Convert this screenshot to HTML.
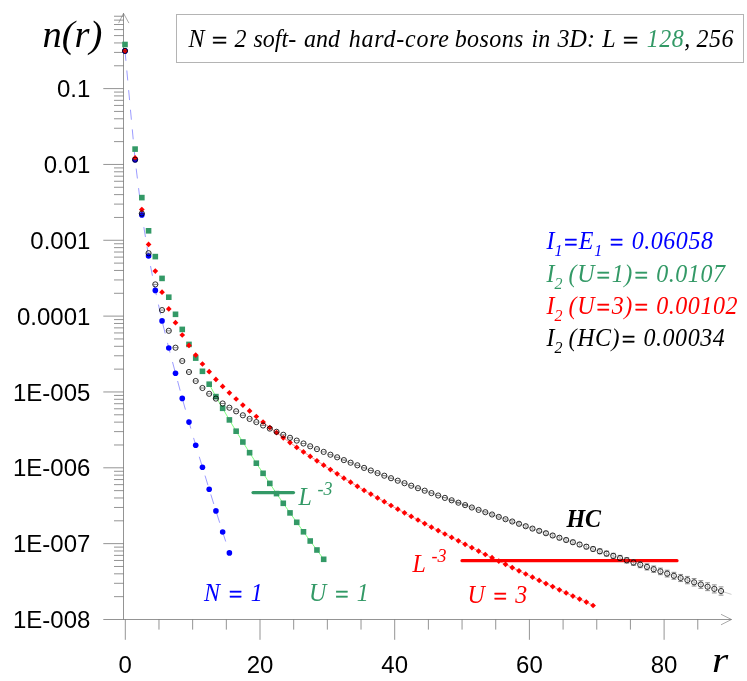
<!DOCTYPE html>
<html><head><meta charset="utf-8"><title>n(r)</title>
<style>
html,body{margin:0;padding:0;background:#fff;}
#c{position:relative;width:747px;height:681px;overflow:hidden;background:#fff;font-family:"Liberation Serif",serif;}
.t{position:absolute;white-space:nowrap;font-style:italic;font-family:"Liberation Serif",serif;}
.t .b{display:inline-block;}
.s{font-family:"Liberation Sans",sans-serif;font-style:normal;}
.yl{transform:scaleY(1.03);transform-origin:0 20.6px;position:absolute;left:0;width:90.4px;text-align:right;font:24px "Liberation Sans",sans-serif;height:24px;line-height:24px;color:#000;}
.xl{transform:scaleY(1.03);transform-origin:0 20.6px;position:absolute;width:60px;text-align:center;font:24px "Liberation Sans",sans-serif;height:24px;line-height:24px;color:#000;}
span.eq{display:inline-block;transform:scaleX(1.15);transform-origin:0 50%;position:relative;top:2.3px;-webkit-text-stroke:0.45px currentColor;}
span.e2{position:relative;top:2.3px;-webkit-text-stroke:0.45px currentColor;}
span.n{letter-spacing:0.55px;}
span.p{letter-spacing:0.55px;}
sub.k{font-size:16px;vertical-align:baseline;position:relative;top:6.8px;line-height:0;}
sup.k{font-size:18px;vertical-align:baseline;position:relative;top:-10.3px;left:0.3px;line-height:0;}
#tx{position:absolute;left:0;top:0;width:747px;height:681px;will-change:transform;}
#box{position:absolute;left:175.8px;top:13.8px;width:566.6px;height:47.3px;border:1px solid #b4b4b4;}
</style></head><body><div id="c">
<svg width="747" height="681" viewBox="0 0 747 681" style="position:absolute;left:0;top:0">
<g stroke="#707070" stroke-width="0.75" fill="none">
<line x1="123.5" y1="13.3" x2="123.5" y2="619.5"/>
<line x1="103.3" y1="619.5" x2="731.5" y2="619.5"/>
<polyline points="118.6,23.1 123.5,13.3 128.9,23.1" stroke-width="0.6"/>
<polyline points="721,614.3 731.5,619.5 721,624.8" stroke-width="0.6"/>
<line x1="103.3" y1="88.60" x2="123.5" y2="88.60"/>
<line x1="103.3" y1="164.44" x2="123.5" y2="164.44"/>
<line x1="103.3" y1="240.28" x2="123.5" y2="240.28"/>
<line x1="103.3" y1="316.12" x2="123.5" y2="316.12"/>
<line x1="103.3" y1="391.96" x2="123.5" y2="391.96"/>
<line x1="103.3" y1="467.80" x2="123.5" y2="467.80"/>
<line x1="103.3" y1="543.64" x2="123.5" y2="543.64"/>
<line x1="114" y1="65.77" x2="123.5" y2="65.77"/>
<line x1="114" y1="52.42" x2="123.5" y2="52.42"/>
<line x1="114" y1="42.94" x2="123.5" y2="42.94"/>
<line x1="114" y1="35.59" x2="123.5" y2="35.59"/>
<line x1="114" y1="29.59" x2="123.5" y2="29.59"/>
<line x1="114" y1="24.51" x2="123.5" y2="24.51"/>
<line x1="114" y1="20.11" x2="123.5" y2="20.11"/>
<line x1="114" y1="16.23" x2="123.5" y2="16.23"/>
<line x1="114" y1="141.61" x2="123.5" y2="141.61"/>
<line x1="114" y1="128.26" x2="123.5" y2="128.26"/>
<line x1="114" y1="118.78" x2="123.5" y2="118.78"/>
<line x1="114" y1="111.43" x2="123.5" y2="111.43"/>
<line x1="114" y1="105.43" x2="123.5" y2="105.43"/>
<line x1="114" y1="100.35" x2="123.5" y2="100.35"/>
<line x1="114" y1="95.95" x2="123.5" y2="95.95"/>
<line x1="114" y1="92.07" x2="123.5" y2="92.07"/>
<line x1="114" y1="217.45" x2="123.5" y2="217.45"/>
<line x1="114" y1="204.10" x2="123.5" y2="204.10"/>
<line x1="114" y1="194.62" x2="123.5" y2="194.62"/>
<line x1="114" y1="187.27" x2="123.5" y2="187.27"/>
<line x1="114" y1="181.27" x2="123.5" y2="181.27"/>
<line x1="114" y1="176.19" x2="123.5" y2="176.19"/>
<line x1="114" y1="171.79" x2="123.5" y2="171.79"/>
<line x1="114" y1="167.91" x2="123.5" y2="167.91"/>
<line x1="114" y1="293.29" x2="123.5" y2="293.29"/>
<line x1="114" y1="279.94" x2="123.5" y2="279.94"/>
<line x1="114" y1="270.46" x2="123.5" y2="270.46"/>
<line x1="114" y1="263.11" x2="123.5" y2="263.11"/>
<line x1="114" y1="257.11" x2="123.5" y2="257.11"/>
<line x1="114" y1="252.03" x2="123.5" y2="252.03"/>
<line x1="114" y1="247.63" x2="123.5" y2="247.63"/>
<line x1="114" y1="243.75" x2="123.5" y2="243.75"/>
<line x1="114" y1="369.13" x2="123.5" y2="369.13"/>
<line x1="114" y1="355.78" x2="123.5" y2="355.78"/>
<line x1="114" y1="346.30" x2="123.5" y2="346.30"/>
<line x1="114" y1="338.95" x2="123.5" y2="338.95"/>
<line x1="114" y1="332.95" x2="123.5" y2="332.95"/>
<line x1="114" y1="327.87" x2="123.5" y2="327.87"/>
<line x1="114" y1="323.47" x2="123.5" y2="323.47"/>
<line x1="114" y1="319.59" x2="123.5" y2="319.59"/>
<line x1="114" y1="444.97" x2="123.5" y2="444.97"/>
<line x1="114" y1="431.62" x2="123.5" y2="431.62"/>
<line x1="114" y1="422.14" x2="123.5" y2="422.14"/>
<line x1="114" y1="414.79" x2="123.5" y2="414.79"/>
<line x1="114" y1="408.79" x2="123.5" y2="408.79"/>
<line x1="114" y1="403.71" x2="123.5" y2="403.71"/>
<line x1="114" y1="399.31" x2="123.5" y2="399.31"/>
<line x1="114" y1="395.43" x2="123.5" y2="395.43"/>
<line x1="114" y1="520.81" x2="123.5" y2="520.81"/>
<line x1="114" y1="507.46" x2="123.5" y2="507.46"/>
<line x1="114" y1="497.98" x2="123.5" y2="497.98"/>
<line x1="114" y1="490.63" x2="123.5" y2="490.63"/>
<line x1="114" y1="484.63" x2="123.5" y2="484.63"/>
<line x1="114" y1="479.55" x2="123.5" y2="479.55"/>
<line x1="114" y1="475.15" x2="123.5" y2="475.15"/>
<line x1="114" y1="471.27" x2="123.5" y2="471.27"/>
<line x1="114" y1="596.65" x2="123.5" y2="596.65"/>
<line x1="114" y1="583.30" x2="123.5" y2="583.30"/>
<line x1="114" y1="573.82" x2="123.5" y2="573.82"/>
<line x1="114" y1="566.47" x2="123.5" y2="566.47"/>
<line x1="114" y1="560.47" x2="123.5" y2="560.47"/>
<line x1="114" y1="555.39" x2="123.5" y2="555.39"/>
<line x1="114" y1="550.99" x2="123.5" y2="550.99"/>
<line x1="114" y1="547.11" x2="123.5" y2="547.11"/>
<line x1="125.30" y1="619.5" x2="125.30" y2="639.8"/>
<line x1="158.98" y1="619.5" x2="158.98" y2="629.6"/>
<line x1="192.65" y1="619.5" x2="192.65" y2="629.6"/>
<line x1="226.33" y1="619.5" x2="226.33" y2="629.6"/>
<line x1="260.00" y1="619.5" x2="260.00" y2="639.8"/>
<line x1="293.68" y1="619.5" x2="293.68" y2="629.6"/>
<line x1="327.35" y1="619.5" x2="327.35" y2="629.6"/>
<line x1="361.03" y1="619.5" x2="361.03" y2="629.6"/>
<line x1="394.70" y1="619.5" x2="394.70" y2="639.8"/>
<line x1="428.38" y1="619.5" x2="428.38" y2="629.6"/>
<line x1="462.05" y1="619.5" x2="462.05" y2="629.6"/>
<line x1="495.73" y1="619.5" x2="495.73" y2="629.6"/>
<line x1="529.40" y1="619.5" x2="529.40" y2="639.8"/>
<line x1="563.08" y1="619.5" x2="563.08" y2="629.6"/>
<line x1="596.75" y1="619.5" x2="596.75" y2="629.6"/>
<line x1="630.42" y1="619.5" x2="630.42" y2="629.6"/>
<line x1="664.10" y1="619.5" x2="664.10" y2="639.8"/>
<line x1="697.77" y1="619.5" x2="697.77" y2="629.6"/>
</g>
<path d="M125.00,50.90 L135.10,159.70 L141.84,214.90 L148.57,256.00 L155.31,290.40 L162.04,320.90 L168.78,348.00 L175.51,373.20 L182.25,398.40 L188.98,422.10 L195.72,445.20 L202.45,467.20 L209.19,489.20 L215.92,510.90 L222.66,532.00 L229.39,552.90" stroke="#7070ff" stroke-width="0.7" fill="none" stroke-dasharray="10 9.7"/>
<path d="M209.19,384.20 L215.92,396.60 L222.66,408.30 L229.39,419.90 L236.13,431.20 L242.86,442.00 L249.60,452.70 L256.33,463.20 L263.07,473.30 L269.80,483.40 L276.54,493.60 L283.27,503.30 L290.01,512.90 L296.74,522.30 L303.48,531.80 L310.21,541.00 L316.95,550.00 L323.68,559.30" stroke="#80ff80" stroke-width="1" fill="none"/>
<path d="M263.07,422.10 L269.80,427.60 L276.54,432.60 L283.27,437.80 L290.01,442.60 L296.74,447.40 L303.48,451.90 L310.21,456.40 L316.95,460.80 L323.68,465.20 L330.42,469.60 L337.15,473.80 L343.89,478.20 L350.62,482.20 L357.36,486.30 L364.09,490.30 L370.83,494.10 L377.56,497.90 L384.30,501.70 L391.03,505.50 L397.77,509.20 L404.50,512.80 L411.24,516.40 L417.97,520.00 L424.71,523.60 L431.44,527.20 L438.18,530.60 L444.91,534.00 L451.65,537.40 L458.38,540.80 L465.12,544.30 L471.85,547.70 L478.59,551.10 L485.32,554.50 L492.06,557.70 L498.79,561.10 L505.53,564.30 L512.26,567.60 L519.00,570.80 L525.73,574.00 L532.47,577.20 L539.20,580.40 L545.94,583.60 L552.67,586.60 L559.41,589.80 L566.14,592.90 L572.88,596.10 L579.61,599.10 L586.35,602.10 L593.08,605.50" stroke="#ff9090" stroke-width="1" fill="none"/>
<path d="M330.42,454.70 L337.15,457.30 L343.89,460.10 L350.62,462.70 L357.36,465.30 L364.09,467.90 L370.83,470.50 L377.56,473.10 L384.30,475.70 L391.03,478.20 L397.77,480.70 L404.50,483.20 L411.24,485.70 L417.97,488.20 L424.71,490.70 L431.44,493.10 L438.18,495.50 L444.91,497.90 L451.65,500.30 L458.38,502.70 L465.12,505.10 L471.85,507.50 L478.59,509.90 L485.32,512.20 L492.06,514.50 L498.79,516.90 L505.53,519.20 L512.26,521.50 L519.00,523.80 L525.73,526.20 L532.47,528.60 L539.20,530.90 L545.94,533.20 L552.67,535.50 L559.41,537.80 L566.14,540.00 L572.88,542.20 L579.61,544.50 L586.35,546.70 L593.08,549.00 L599.82,551.30 L606.55,553.60 L613.29,555.90 L620.02,558.10 L626.76,560.30 L633.49,562.50 L640.23,564.70 L646.96,566.90 L653.70,569.20 L660.43,571.40 L667.17,573.60 L673.90,575.80 L680.64,578.00 L687.37,580.10 L694.11,582.30 L700.84,584.50 L707.58,586.70 L714.31,588.90 L721.05,591.00 L731.49,594.40" stroke="#999" stroke-width="0.5" fill="none"/>
<line x1="253" y1="492.6" x2="293.5" y2="492.6" stroke="#339966" stroke-width="3.2" stroke-linecap="round"/>
<line x1="462" y1="560.7" x2="677" y2="560.7" stroke="#ff0000" stroke-width="3.2" stroke-linecap="round"/>
<circle cx="125.00" cy="50.90" r="2.8" fill="#0000ff"/>
<circle cx="135.10" cy="159.70" r="2.8" fill="#0000ff"/>
<circle cx="141.84" cy="214.90" r="2.8" fill="#0000ff"/>
<circle cx="148.57" cy="256.00" r="2.8" fill="#0000ff"/>
<circle cx="155.31" cy="290.40" r="2.8" fill="#0000ff"/>
<circle cx="162.04" cy="320.90" r="2.8" fill="#0000ff"/>
<circle cx="168.78" cy="348.00" r="2.8" fill="#0000ff"/>
<circle cx="175.51" cy="373.20" r="2.8" fill="#0000ff"/>
<circle cx="182.25" cy="398.40" r="2.8" fill="#0000ff"/>
<circle cx="188.98" cy="422.10" r="2.8" fill="#0000ff"/>
<circle cx="195.72" cy="445.20" r="2.8" fill="#0000ff"/>
<circle cx="202.45" cy="467.20" r="2.8" fill="#0000ff"/>
<circle cx="209.19" cy="489.20" r="2.8" fill="#0000ff"/>
<circle cx="215.92" cy="510.90" r="2.8" fill="#0000ff"/>
<circle cx="222.66" cy="532.00" r="2.8" fill="#0000ff"/>
<circle cx="229.39" cy="552.90" r="2.8" fill="#0000ff"/>
<rect x="122.20" y="41.70" width="5.6" height="5.6" fill="#339966"/>
<rect x="132.30" y="146.30" width="5.6" height="5.6" fill="#339966"/>
<rect x="139.04" y="194.80" width="5.6" height="5.6" fill="#339966"/>
<rect x="145.77" y="228.00" width="5.6" height="5.6" fill="#339966"/>
<rect x="152.51" y="253.80" width="5.6" height="5.6" fill="#339966"/>
<rect x="159.24" y="275.60" width="5.6" height="5.6" fill="#339966"/>
<rect x="165.98" y="294.40" width="5.6" height="5.6" fill="#339966"/>
<rect x="172.71" y="311.50" width="5.6" height="5.6" fill="#339966"/>
<rect x="179.45" y="326.60" width="5.6" height="5.6" fill="#339966"/>
<rect x="186.18" y="341.60" width="5.6" height="5.6" fill="#339966"/>
<rect x="192.92" y="355.30" width="5.6" height="5.6" fill="#339966"/>
<rect x="199.65" y="368.50" width="5.6" height="5.6" fill="#339966"/>
<rect x="206.39" y="381.40" width="5.6" height="5.6" fill="#339966"/>
<rect x="213.12" y="393.80" width="5.6" height="5.6" fill="#339966"/>
<rect x="219.86" y="405.50" width="5.6" height="5.6" fill="#339966"/>
<rect x="226.59" y="417.10" width="5.6" height="5.6" fill="#339966"/>
<rect x="233.33" y="428.40" width="5.6" height="5.6" fill="#339966"/>
<rect x="240.06" y="439.20" width="5.6" height="5.6" fill="#339966"/>
<rect x="246.80" y="449.90" width="5.6" height="5.6" fill="#339966"/>
<rect x="253.53" y="460.40" width="5.6" height="5.6" fill="#339966"/>
<rect x="260.27" y="470.50" width="5.6" height="5.6" fill="#339966"/>
<rect x="267.00" y="480.60" width="5.6" height="5.6" fill="#339966"/>
<rect x="273.74" y="490.80" width="5.6" height="5.6" fill="#339966"/>
<rect x="280.47" y="500.50" width="5.6" height="5.6" fill="#339966"/>
<rect x="287.21" y="510.10" width="5.6" height="5.6" fill="#339966"/>
<rect x="293.94" y="519.50" width="5.6" height="5.6" fill="#339966"/>
<rect x="300.68" y="529.00" width="5.6" height="5.6" fill="#339966"/>
<rect x="307.41" y="538.20" width="5.6" height="5.6" fill="#339966"/>
<rect x="314.15" y="547.20" width="5.6" height="5.6" fill="#339966"/>
<rect x="320.88" y="556.50" width="5.6" height="5.6" fill="#339966"/>
<path d="M122.15,50.90 L125.00,48.05 L127.85,50.90 L125.00,53.75Z" fill="#ff0000"/>
<path d="M132.25,157.90 L135.10,155.05 L137.95,157.90 L135.10,160.75Z" fill="#ff0000"/>
<path d="M138.99,209.60 L141.84,206.75 L144.69,209.60 L141.84,212.45Z" fill="#ff0000"/>
<path d="M145.72,244.40 L148.57,241.55 L151.42,244.40 L148.57,247.25Z" fill="#ff0000"/>
<path d="M152.46,271.10 L155.31,268.25 L158.16,271.10 L155.31,273.95Z" fill="#ff0000"/>
<path d="M159.19,292.20 L162.04,289.35 L164.89,292.20 L162.04,295.05Z" fill="#ff0000"/>
<path d="M165.93,308.90 L168.78,306.05 L171.63,308.90 L168.78,311.75Z" fill="#ff0000"/>
<path d="M172.66,322.70 L175.51,319.85 L178.36,322.70 L175.51,325.55Z" fill="#ff0000"/>
<path d="M179.40,335.00 L182.25,332.15 L185.10,335.00 L182.25,337.85Z" fill="#ff0000"/>
<path d="M186.13,345.40 L188.98,342.55 L191.83,345.40 L188.98,348.25Z" fill="#ff0000"/>
<path d="M192.87,355.10 L195.72,352.25 L198.57,355.10 L195.72,357.95Z" fill="#ff0000"/>
<path d="M199.60,364.00 L202.45,361.15 L205.30,364.00 L202.45,366.85Z" fill="#ff0000"/>
<path d="M206.34,371.70 L209.19,368.85 L212.04,371.70 L209.19,374.55Z" fill="#ff0000"/>
<path d="M213.07,379.40 L215.92,376.55 L218.77,379.40 L215.92,382.25Z" fill="#ff0000"/>
<path d="M219.81,386.40 L222.66,383.55 L225.51,386.40 L222.66,389.25Z" fill="#ff0000"/>
<path d="M226.54,392.80 L229.39,389.95 L232.24,392.80 L229.39,395.65Z" fill="#ff0000"/>
<path d="M233.28,399.00 L236.13,396.15 L238.98,399.00 L236.13,401.85Z" fill="#ff0000"/>
<path d="M240.01,405.10 L242.86,402.25 L245.71,405.10 L242.86,407.95Z" fill="#ff0000"/>
<path d="M246.75,410.90 L249.60,408.05 L252.45,410.90 L249.60,413.75Z" fill="#ff0000"/>
<path d="M253.48,416.50 L256.33,413.65 L259.18,416.50 L256.33,419.35Z" fill="#ff0000"/>
<path d="M260.22,422.10 L263.07,419.25 L265.92,422.10 L263.07,424.95Z" fill="#ff0000"/>
<path d="M266.95,427.60 L269.80,424.75 L272.65,427.60 L269.80,430.45Z" fill="#ff0000"/>
<path d="M273.69,432.60 L276.54,429.75 L279.39,432.60 L276.54,435.45Z" fill="#ff0000"/>
<path d="M280.42,437.80 L283.27,434.95 L286.12,437.80 L283.27,440.65Z" fill="#ff0000"/>
<path d="M287.16,442.60 L290.01,439.75 L292.86,442.60 L290.01,445.45Z" fill="#ff0000"/>
<path d="M293.89,447.40 L296.74,444.55 L299.59,447.40 L296.74,450.25Z" fill="#ff0000"/>
<path d="M300.63,451.90 L303.48,449.05 L306.33,451.90 L303.48,454.75Z" fill="#ff0000"/>
<path d="M307.36,456.40 L310.21,453.55 L313.06,456.40 L310.21,459.25Z" fill="#ff0000"/>
<path d="M314.10,460.80 L316.95,457.95 L319.80,460.80 L316.95,463.65Z" fill="#ff0000"/>
<path d="M320.83,465.20 L323.68,462.35 L326.53,465.20 L323.68,468.05Z" fill="#ff0000"/>
<path d="M327.57,469.60 L330.42,466.75 L333.27,469.60 L330.42,472.45Z" fill="#ff0000"/>
<path d="M334.30,473.80 L337.15,470.95 L340.00,473.80 L337.15,476.65Z" fill="#ff0000"/>
<path d="M341.04,478.20 L343.89,475.35 L346.74,478.20 L343.89,481.05Z" fill="#ff0000"/>
<path d="M347.77,482.20 L350.62,479.35 L353.47,482.20 L350.62,485.05Z" fill="#ff0000"/>
<path d="M354.51,486.30 L357.36,483.45 L360.21,486.30 L357.36,489.15Z" fill="#ff0000"/>
<path d="M361.24,490.30 L364.09,487.45 L366.94,490.30 L364.09,493.15Z" fill="#ff0000"/>
<path d="M367.98,494.10 L370.83,491.25 L373.68,494.10 L370.83,496.95Z" fill="#ff0000"/>
<path d="M374.71,497.90 L377.56,495.05 L380.41,497.90 L377.56,500.75Z" fill="#ff0000"/>
<path d="M381.45,501.70 L384.30,498.85 L387.15,501.70 L384.30,504.55Z" fill="#ff0000"/>
<path d="M388.18,505.50 L391.03,502.65 L393.88,505.50 L391.03,508.35Z" fill="#ff0000"/>
<path d="M394.92,509.20 L397.77,506.35 L400.62,509.20 L397.77,512.05Z" fill="#ff0000"/>
<path d="M401.65,512.80 L404.50,509.95 L407.35,512.80 L404.50,515.65Z" fill="#ff0000"/>
<path d="M408.39,516.40 L411.24,513.55 L414.09,516.40 L411.24,519.25Z" fill="#ff0000"/>
<path d="M415.12,520.00 L417.97,517.15 L420.82,520.00 L417.97,522.85Z" fill="#ff0000"/>
<path d="M421.86,523.60 L424.71,520.75 L427.56,523.60 L424.71,526.45Z" fill="#ff0000"/>
<path d="M428.59,527.20 L431.44,524.35 L434.29,527.20 L431.44,530.05Z" fill="#ff0000"/>
<path d="M435.33,530.60 L438.18,527.75 L441.03,530.60 L438.18,533.45Z" fill="#ff0000"/>
<path d="M442.06,534.00 L444.91,531.15 L447.76,534.00 L444.91,536.85Z" fill="#ff0000"/>
<path d="M448.80,537.40 L451.65,534.55 L454.50,537.40 L451.65,540.25Z" fill="#ff0000"/>
<path d="M455.53,540.80 L458.38,537.95 L461.23,540.80 L458.38,543.65Z" fill="#ff0000"/>
<path d="M462.27,544.30 L465.12,541.45 L467.97,544.30 L465.12,547.15Z" fill="#ff0000"/>
<path d="M469.00,547.70 L471.85,544.85 L474.70,547.70 L471.85,550.55Z" fill="#ff0000"/>
<path d="M475.74,551.10 L478.59,548.25 L481.44,551.10 L478.59,553.95Z" fill="#ff0000"/>
<path d="M482.47,554.50 L485.32,551.65 L488.17,554.50 L485.32,557.35Z" fill="#ff0000"/>
<path d="M489.21,557.70 L492.06,554.85 L494.91,557.70 L492.06,560.55Z" fill="#ff0000"/>
<path d="M495.94,561.10 L498.79,558.25 L501.64,561.10 L498.79,563.95Z" fill="#ff0000"/>
<path d="M502.68,564.30 L505.53,561.45 L508.38,564.30 L505.53,567.15Z" fill="#ff0000"/>
<path d="M509.41,567.60 L512.26,564.75 L515.11,567.60 L512.26,570.45Z" fill="#ff0000"/>
<path d="M516.15,570.80 L519.00,567.95 L521.85,570.80 L519.00,573.65Z" fill="#ff0000"/>
<path d="M522.88,574.00 L525.73,571.15 L528.58,574.00 L525.73,576.85Z" fill="#ff0000"/>
<path d="M529.62,577.20 L532.47,574.35 L535.32,577.20 L532.47,580.05Z" fill="#ff0000"/>
<path d="M536.35,580.40 L539.20,577.55 L542.05,580.40 L539.20,583.25Z" fill="#ff0000"/>
<path d="M543.09,583.60 L545.94,580.75 L548.79,583.60 L545.94,586.45Z" fill="#ff0000"/>
<path d="M549.82,586.60 L552.67,583.75 L555.52,586.60 L552.67,589.45Z" fill="#ff0000"/>
<path d="M556.56,589.80 L559.41,586.95 L562.26,589.80 L559.41,592.65Z" fill="#ff0000"/>
<path d="M563.29,592.90 L566.14,590.05 L568.99,592.90 L566.14,595.75Z" fill="#ff0000"/>
<path d="M570.03,596.10 L572.88,593.25 L575.73,596.10 L572.88,598.95Z" fill="#ff0000"/>
<path d="M576.76,599.10 L579.61,596.25 L582.46,599.10 L579.61,601.95Z" fill="#ff0000"/>
<path d="M583.50,602.10 L586.35,599.25 L589.20,602.10 L586.35,604.95Z" fill="#ff0000"/>
<path d="M590.23,605.50 L593.08,602.65 L595.93,605.50 L593.08,608.35Z" fill="#ff0000"/>
<g stroke="#000" fill="none">
<line x1="122.60" y1="50.90" x2="127.40" y2="50.90" stroke-width="0.55" stroke="#222"/>
<circle cx="125.00" cy="50.90" r="2.6" stroke-width="0.8"/>
<line x1="132.70" y1="159.70" x2="137.50" y2="159.70" stroke-width="0.55" stroke="#222"/>
<circle cx="135.10" cy="159.70" r="2.6" stroke-width="0.8"/>
<line x1="139.44" y1="213.50" x2="144.24" y2="213.50" stroke-width="0.55" stroke="#222"/>
<circle cx="141.84" cy="213.50" r="2.6" stroke-width="0.8"/>
<line x1="146.17" y1="253.20" x2="150.97" y2="253.20" stroke-width="0.55" stroke="#222"/>
<circle cx="148.57" cy="253.20" r="2.6" stroke-width="0.8"/>
<line x1="152.91" y1="284.40" x2="157.71" y2="284.40" stroke-width="0.55" stroke="#222"/>
<circle cx="155.31" cy="284.40" r="2.6" stroke-width="0.8"/>
<line x1="159.64" y1="310.10" x2="164.44" y2="310.10" stroke-width="0.55" stroke="#222"/>
<circle cx="162.04" cy="310.10" r="2.6" stroke-width="0.8"/>
<line x1="166.38" y1="330.80" x2="171.18" y2="330.80" stroke-width="0.55" stroke="#222"/>
<circle cx="168.78" cy="330.80" r="2.6" stroke-width="0.8"/>
<line x1="173.11" y1="347.70" x2="177.91" y2="347.70" stroke-width="0.55" stroke="#222"/>
<circle cx="175.51" cy="347.70" r="2.6" stroke-width="0.8"/>
<line x1="179.85" y1="361.00" x2="184.65" y2="361.00" stroke-width="0.55" stroke="#222"/>
<circle cx="182.25" cy="361.00" r="2.6" stroke-width="0.8"/>
<line x1="186.58" y1="372.00" x2="191.38" y2="372.00" stroke-width="0.55" stroke="#222"/>
<circle cx="188.98" cy="372.00" r="2.6" stroke-width="0.8"/>
<line x1="193.32" y1="381.00" x2="198.12" y2="381.00" stroke-width="0.55" stroke="#222"/>
<circle cx="195.72" cy="381.00" r="2.6" stroke-width="0.8"/>
<line x1="200.05" y1="388.00" x2="204.85" y2="388.00" stroke-width="0.55" stroke="#222"/>
<circle cx="202.45" cy="388.00" r="2.6" stroke-width="0.8"/>
<line x1="206.79" y1="393.80" x2="211.59" y2="393.80" stroke-width="0.55" stroke="#222"/>
<circle cx="209.19" cy="393.80" r="2.6" stroke-width="0.8"/>
<line x1="213.52" y1="398.60" x2="218.32" y2="398.60" stroke-width="0.55" stroke="#222"/>
<circle cx="215.92" cy="398.60" r="2.6" stroke-width="0.8"/>
<line x1="220.26" y1="403.50" x2="225.06" y2="403.50" stroke-width="0.55" stroke="#222"/>
<circle cx="222.66" cy="403.50" r="2.6" stroke-width="0.8"/>
<line x1="226.99" y1="407.70" x2="231.79" y2="407.70" stroke-width="0.55" stroke="#222"/>
<circle cx="229.39" cy="407.70" r="2.6" stroke-width="0.8"/>
<line x1="233.73" y1="411.30" x2="238.53" y2="411.30" stroke-width="0.55" stroke="#222"/>
<circle cx="236.13" cy="411.30" r="2.6" stroke-width="0.8"/>
<line x1="240.46" y1="415.30" x2="245.26" y2="415.30" stroke-width="0.55" stroke="#222"/>
<circle cx="242.86" cy="415.30" r="2.6" stroke-width="0.8"/>
<line x1="247.20" y1="418.90" x2="252.00" y2="418.90" stroke-width="0.55" stroke="#222"/>
<circle cx="249.60" cy="418.90" r="2.6" stroke-width="0.8"/>
<line x1="253.93" y1="422.10" x2="258.73" y2="422.10" stroke-width="0.55" stroke="#222"/>
<circle cx="256.33" cy="422.10" r="2.6" stroke-width="0.8"/>
<line x1="260.67" y1="425.50" x2="265.47" y2="425.50" stroke-width="0.55" stroke="#222"/>
<circle cx="263.07" cy="425.50" r="2.6" stroke-width="0.8"/>
<line x1="267.40" y1="428.60" x2="272.20" y2="428.60" stroke-width="0.55" stroke="#222"/>
<circle cx="269.80" cy="428.60" r="2.6" stroke-width="0.8"/>
<line x1="274.14" y1="431.80" x2="278.94" y2="431.80" stroke-width="0.55" stroke="#222"/>
<circle cx="276.54" cy="431.80" r="2.6" stroke-width="0.8"/>
<line x1="280.87" y1="434.80" x2="285.67" y2="434.80" stroke-width="0.55" stroke="#222"/>
<circle cx="283.27" cy="434.80" r="2.6" stroke-width="0.8"/>
<line x1="287.61" y1="437.80" x2="292.41" y2="437.80" stroke-width="0.55" stroke="#222"/>
<circle cx="290.01" cy="437.80" r="2.6" stroke-width="0.8"/>
<line x1="294.34" y1="440.60" x2="299.14" y2="440.60" stroke-width="0.55" stroke="#222"/>
<circle cx="296.74" cy="440.60" r="2.6" stroke-width="0.8"/>
<line x1="301.08" y1="443.50" x2="305.88" y2="443.50" stroke-width="0.55" stroke="#222"/>
<circle cx="303.48" cy="443.50" r="2.6" stroke-width="0.8"/>
<line x1="307.81" y1="446.30" x2="312.61" y2="446.30" stroke-width="0.55" stroke="#222"/>
<circle cx="310.21" cy="446.30" r="2.6" stroke-width="0.8"/>
<line x1="314.55" y1="449.10" x2="319.35" y2="449.10" stroke-width="0.55" stroke="#222"/>
<circle cx="316.95" cy="449.10" r="2.6" stroke-width="0.8"/>
<line x1="321.28" y1="451.90" x2="326.08" y2="451.90" stroke-width="0.55" stroke="#222"/>
<circle cx="323.68" cy="451.90" r="2.6" stroke-width="0.8"/>
<line x1="328.02" y1="454.70" x2="332.82" y2="454.70" stroke-width="0.55" stroke="#222"/>
<circle cx="330.42" cy="454.70" r="2.6" stroke-width="0.8"/>
<line x1="334.75" y1="457.30" x2="339.55" y2="457.30" stroke-width="0.55" stroke="#222"/>
<circle cx="337.15" cy="457.30" r="2.6" stroke-width="0.8"/>
<line x1="341.49" y1="460.10" x2="346.29" y2="460.10" stroke-width="0.55" stroke="#222"/>
<circle cx="343.89" cy="460.10" r="2.6" stroke-width="0.8"/>
<line x1="348.22" y1="462.70" x2="353.02" y2="462.70" stroke-width="0.55" stroke="#222"/>
<circle cx="350.62" cy="462.70" r="2.6" stroke-width="0.8"/>
<line x1="354.96" y1="465.30" x2="359.76" y2="465.30" stroke-width="0.55" stroke="#222"/>
<circle cx="357.36" cy="465.30" r="2.6" stroke-width="0.8"/>
<line x1="361.69" y1="467.90" x2="366.49" y2="467.90" stroke-width="0.55" stroke="#222"/>
<circle cx="364.09" cy="467.90" r="2.6" stroke-width="0.8"/>
<line x1="368.43" y1="470.50" x2="373.23" y2="470.50" stroke-width="0.55" stroke="#222"/>
<circle cx="370.83" cy="470.50" r="2.6" stroke-width="0.8"/>
<line x1="375.16" y1="473.10" x2="379.96" y2="473.10" stroke-width="0.55" stroke="#222"/>
<circle cx="377.56" cy="473.10" r="2.6" stroke-width="0.8"/>
<line x1="381.90" y1="475.70" x2="386.70" y2="475.70" stroke-width="0.55" stroke="#222"/>
<circle cx="384.30" cy="475.70" r="2.6" stroke-width="0.8"/>
<line x1="388.63" y1="478.20" x2="393.43" y2="478.20" stroke-width="0.55" stroke="#222"/>
<circle cx="391.03" cy="478.20" r="2.6" stroke-width="0.8"/>
<line x1="395.37" y1="480.70" x2="400.17" y2="480.70" stroke-width="0.55" stroke="#222"/>
<circle cx="397.77" cy="480.70" r="2.6" stroke-width="0.8"/>
<line x1="402.10" y1="483.20" x2="406.90" y2="483.20" stroke-width="0.55" stroke="#222"/>
<circle cx="404.50" cy="483.20" r="2.6" stroke-width="0.8"/>
<line x1="408.84" y1="485.70" x2="413.64" y2="485.70" stroke-width="0.55" stroke="#222"/>
<circle cx="411.24" cy="485.70" r="2.6" stroke-width="0.8"/>
<line x1="415.57" y1="488.20" x2="420.37" y2="488.20" stroke-width="0.55" stroke="#222"/>
<circle cx="417.97" cy="488.20" r="2.6" stroke-width="0.8"/>
<line x1="422.31" y1="490.70" x2="427.11" y2="490.70" stroke-width="0.55" stroke="#222"/>
<circle cx="424.71" cy="490.70" r="2.6" stroke-width="0.8"/>
<line x1="429.04" y1="493.05" x2="433.84" y2="493.05" stroke-width="0.55" stroke="#222"/>
<circle cx="431.44" cy="493.10" r="2.6" stroke-width="0.8"/>
<line x1="435.78" y1="495.36" x2="440.58" y2="495.36" stroke-width="0.55" stroke="#222"/>
<circle cx="438.18" cy="495.50" r="2.6" stroke-width="0.8"/>
<line x1="442.51" y1="497.66" x2="447.31" y2="497.66" stroke-width="0.55" stroke="#222"/>
<circle cx="444.91" cy="497.90" r="2.6" stroke-width="0.8"/>
<line x1="449.25" y1="499.97" x2="454.05" y2="499.97" stroke-width="0.55" stroke="#222"/>
<line x1="449.25" y1="500.63" x2="454.05" y2="500.63" stroke-width="0.55" stroke="#222"/>
<line x1="451.65" y1="499.97" x2="451.65" y2="500.63" stroke-width="0.4" stroke="#666"/>
<circle cx="451.65" cy="500.30" r="2.6" stroke-width="0.8"/>
<line x1="455.98" y1="502.27" x2="460.78" y2="502.27" stroke-width="0.55" stroke="#222"/>
<line x1="455.98" y1="503.13" x2="460.78" y2="503.13" stroke-width="0.55" stroke="#222"/>
<line x1="458.38" y1="502.27" x2="458.38" y2="503.13" stroke-width="0.4" stroke="#666"/>
<circle cx="458.38" cy="502.70" r="2.6" stroke-width="0.8"/>
<line x1="462.72" y1="504.58" x2="467.52" y2="504.58" stroke-width="0.55" stroke="#222"/>
<line x1="462.72" y1="505.62" x2="467.52" y2="505.62" stroke-width="0.55" stroke="#222"/>
<line x1="465.12" y1="504.58" x2="465.12" y2="505.62" stroke-width="0.4" stroke="#666"/>
<circle cx="465.12" cy="505.10" r="2.6" stroke-width="0.8"/>
<line x1="469.45" y1="506.88" x2="474.25" y2="506.88" stroke-width="0.4" stroke="#555"/>
<line x1="469.45" y1="508.12" x2="474.25" y2="508.12" stroke-width="0.4" stroke="#555"/>
<line x1="471.85" y1="506.88" x2="471.85" y2="508.12" stroke-width="0.4" stroke="#666"/>
<circle cx="471.85" cy="507.50" r="2.6" stroke-width="0.8"/>
<line x1="476.19" y1="509.19" x2="480.99" y2="509.19" stroke-width="0.4" stroke="#555"/>
<line x1="476.19" y1="510.61" x2="480.99" y2="510.61" stroke-width="0.4" stroke="#555"/>
<line x1="478.59" y1="509.19" x2="478.59" y2="510.61" stroke-width="0.4" stroke="#666"/>
<circle cx="478.59" cy="509.90" r="2.6" stroke-width="0.8"/>
<line x1="482.92" y1="511.39" x2="487.72" y2="511.39" stroke-width="0.4" stroke="#555"/>
<line x1="482.92" y1="513.01" x2="487.72" y2="513.01" stroke-width="0.4" stroke="#555"/>
<line x1="485.32" y1="511.39" x2="485.32" y2="513.01" stroke-width="0.4" stroke="#666"/>
<circle cx="485.32" cy="512.20" r="2.6" stroke-width="0.8"/>
<line x1="489.66" y1="513.60" x2="494.46" y2="513.60" stroke-width="0.4" stroke="#555"/>
<line x1="489.66" y1="515.40" x2="494.46" y2="515.40" stroke-width="0.4" stroke="#555"/>
<line x1="492.06" y1="513.60" x2="492.06" y2="515.40" stroke-width="0.4" stroke="#666"/>
<circle cx="492.06" cy="514.50" r="2.6" stroke-width="0.8"/>
<line x1="496.39" y1="515.90" x2="501.19" y2="515.90" stroke-width="0.4" stroke="#555"/>
<line x1="496.39" y1="517.90" x2="501.19" y2="517.90" stroke-width="0.4" stroke="#555"/>
<line x1="498.79" y1="515.90" x2="498.79" y2="517.90" stroke-width="0.4" stroke="#666"/>
<circle cx="498.79" cy="516.90" r="2.6" stroke-width="0.8"/>
<line x1="503.13" y1="518.11" x2="507.93" y2="518.11" stroke-width="0.4" stroke="#555"/>
<line x1="503.13" y1="520.29" x2="507.93" y2="520.29" stroke-width="0.4" stroke="#555"/>
<line x1="505.53" y1="518.11" x2="505.53" y2="520.29" stroke-width="0.4" stroke="#666"/>
<circle cx="505.53" cy="519.20" r="2.6" stroke-width="0.8"/>
<line x1="509.86" y1="520.31" x2="514.66" y2="520.31" stroke-width="0.4" stroke="#555"/>
<line x1="509.86" y1="522.69" x2="514.66" y2="522.69" stroke-width="0.4" stroke="#555"/>
<line x1="512.26" y1="520.31" x2="512.26" y2="522.69" stroke-width="0.4" stroke="#666"/>
<circle cx="512.26" cy="521.50" r="2.6" stroke-width="0.8"/>
<line x1="516.60" y1="522.52" x2="521.40" y2="522.52" stroke-width="0.4" stroke="#555"/>
<line x1="516.60" y1="525.08" x2="521.40" y2="525.08" stroke-width="0.4" stroke="#555"/>
<line x1="519.00" y1="522.52" x2="519.00" y2="525.08" stroke-width="0.4" stroke="#666"/>
<circle cx="519.00" cy="523.80" r="2.6" stroke-width="0.8"/>
<line x1="523.33" y1="524.82" x2="528.13" y2="524.82" stroke-width="0.4" stroke="#555"/>
<line x1="523.33" y1="527.58" x2="528.13" y2="527.58" stroke-width="0.4" stroke="#555"/>
<line x1="525.73" y1="524.82" x2="525.73" y2="527.58" stroke-width="0.4" stroke="#666"/>
<circle cx="525.73" cy="526.20" r="2.6" stroke-width="0.8"/>
<line x1="530.07" y1="527.13" x2="534.87" y2="527.13" stroke-width="0.4" stroke="#555"/>
<line x1="530.07" y1="530.07" x2="534.87" y2="530.07" stroke-width="0.4" stroke="#555"/>
<line x1="532.47" y1="527.13" x2="532.47" y2="530.07" stroke-width="0.4" stroke="#666"/>
<circle cx="532.47" cy="528.60" r="2.6" stroke-width="0.8"/>
<line x1="536.80" y1="529.33" x2="541.60" y2="529.33" stroke-width="0.4" stroke="#555"/>
<line x1="536.80" y1="532.47" x2="541.60" y2="532.47" stroke-width="0.4" stroke="#555"/>
<line x1="539.20" y1="529.33" x2="539.20" y2="532.47" stroke-width="0.4" stroke="#666"/>
<circle cx="539.20" cy="530.90" r="2.6" stroke-width="0.8"/>
<line x1="543.54" y1="531.54" x2="548.34" y2="531.54" stroke-width="0.4" stroke="#555"/>
<line x1="543.54" y1="534.86" x2="548.34" y2="534.86" stroke-width="0.4" stroke="#555"/>
<line x1="545.94" y1="531.54" x2="545.94" y2="534.86" stroke-width="0.4" stroke="#666"/>
<circle cx="545.94" cy="533.20" r="2.6" stroke-width="0.8"/>
<line x1="550.27" y1="533.74" x2="555.07" y2="533.74" stroke-width="0.4" stroke="#555"/>
<line x1="550.27" y1="537.26" x2="555.07" y2="537.26" stroke-width="0.4" stroke="#555"/>
<line x1="552.67" y1="533.74" x2="552.67" y2="537.26" stroke-width="0.4" stroke="#666"/>
<circle cx="552.67" cy="535.50" r="2.6" stroke-width="0.8"/>
<line x1="557.01" y1="535.95" x2="561.81" y2="535.95" stroke-width="0.4" stroke="#555"/>
<line x1="557.01" y1="539.65" x2="561.81" y2="539.65" stroke-width="0.4" stroke="#555"/>
<line x1="559.41" y1="535.95" x2="559.41" y2="539.65" stroke-width="0.4" stroke="#666"/>
<circle cx="559.41" cy="537.80" r="2.6" stroke-width="0.8"/>
<line x1="563.74" y1="538.05" x2="568.54" y2="538.05" stroke-width="0.4" stroke="#555"/>
<line x1="563.74" y1="541.95" x2="568.54" y2="541.95" stroke-width="0.4" stroke="#555"/>
<line x1="566.14" y1="538.05" x2="566.14" y2="541.95" stroke-width="0.4" stroke="#666"/>
<circle cx="566.14" cy="540.00" r="2.6" stroke-width="0.8"/>
<line x1="570.48" y1="540.16" x2="575.28" y2="540.16" stroke-width="0.4" stroke="#555"/>
<line x1="570.48" y1="544.24" x2="575.28" y2="544.24" stroke-width="0.4" stroke="#555"/>
<line x1="572.88" y1="540.16" x2="572.88" y2="544.24" stroke-width="0.4" stroke="#666"/>
<circle cx="572.88" cy="542.20" r="2.6" stroke-width="0.8"/>
<line x1="577.21" y1="542.36" x2="582.01" y2="542.36" stroke-width="0.4" stroke="#555"/>
<line x1="577.21" y1="546.64" x2="582.01" y2="546.64" stroke-width="0.4" stroke="#555"/>
<line x1="579.61" y1="542.36" x2="579.61" y2="546.64" stroke-width="0.4" stroke="#666"/>
<circle cx="579.61" cy="544.50" r="2.6" stroke-width="0.8"/>
<line x1="583.95" y1="544.47" x2="588.75" y2="544.47" stroke-width="0.4" stroke="#555"/>
<line x1="583.95" y1="548.93" x2="588.75" y2="548.93" stroke-width="0.4" stroke="#555"/>
<line x1="586.35" y1="544.47" x2="586.35" y2="548.93" stroke-width="0.4" stroke="#666"/>
<circle cx="586.35" cy="546.70" r="2.6" stroke-width="0.8"/>
<line x1="590.68" y1="546.67" x2="595.48" y2="546.67" stroke-width="0.4" stroke="#555"/>
<line x1="590.68" y1="551.33" x2="595.48" y2="551.33" stroke-width="0.4" stroke="#555"/>
<line x1="593.08" y1="546.67" x2="593.08" y2="551.33" stroke-width="0.4" stroke="#666"/>
<circle cx="593.08" cy="549.00" r="2.6" stroke-width="0.8"/>
<line x1="597.42" y1="548.88" x2="602.22" y2="548.88" stroke-width="0.6" stroke="#444"/>
<line x1="597.42" y1="553.72" x2="602.22" y2="553.72" stroke-width="0.6" stroke="#444"/>
<line x1="599.82" y1="548.88" x2="599.82" y2="553.72" stroke-width="0.4" stroke="#666"/>
<circle cx="599.82" cy="551.30" r="2.6" stroke-width="0.8"/>
<line x1="604.15" y1="551.08" x2="608.95" y2="551.08" stroke-width="0.6" stroke="#444"/>
<line x1="604.15" y1="556.12" x2="608.95" y2="556.12" stroke-width="0.6" stroke="#444"/>
<line x1="606.55" y1="551.08" x2="606.55" y2="556.12" stroke-width="0.4" stroke="#666"/>
<circle cx="606.55" cy="553.60" r="2.6" stroke-width="0.8"/>
<line x1="610.89" y1="553.29" x2="615.69" y2="553.29" stroke-width="0.6" stroke="#444"/>
<line x1="610.89" y1="558.51" x2="615.69" y2="558.51" stroke-width="0.6" stroke="#444"/>
<line x1="613.29" y1="553.29" x2="613.29" y2="558.51" stroke-width="0.4" stroke="#666"/>
<circle cx="613.29" cy="555.90" r="2.6" stroke-width="0.8"/>
<line x1="617.62" y1="555.39" x2="622.42" y2="555.39" stroke-width="0.6" stroke="#444"/>
<line x1="617.62" y1="560.81" x2="622.42" y2="560.81" stroke-width="0.6" stroke="#444"/>
<line x1="620.02" y1="555.39" x2="620.02" y2="560.81" stroke-width="0.4" stroke="#666"/>
<circle cx="620.02" cy="558.10" r="2.6" stroke-width="0.8"/>
<line x1="624.36" y1="557.50" x2="629.16" y2="557.50" stroke-width="0.6" stroke="#444"/>
<line x1="624.36" y1="563.10" x2="629.16" y2="563.10" stroke-width="0.6" stroke="#444"/>
<line x1="626.76" y1="557.50" x2="626.76" y2="563.10" stroke-width="0.4" stroke="#666"/>
<circle cx="626.76" cy="560.30" r="2.6" stroke-width="0.8"/>
<line x1="631.09" y1="559.60" x2="635.89" y2="559.60" stroke-width="0.6" stroke="#444"/>
<line x1="631.09" y1="565.40" x2="635.89" y2="565.40" stroke-width="0.6" stroke="#444"/>
<line x1="633.49" y1="559.60" x2="633.49" y2="565.40" stroke-width="0.4" stroke="#666"/>
<circle cx="633.49" cy="562.50" r="2.6" stroke-width="0.8"/>
<line x1="637.83" y1="561.71" x2="642.63" y2="561.71" stroke-width="0.6" stroke="#444"/>
<line x1="637.83" y1="567.69" x2="642.63" y2="567.69" stroke-width="0.6" stroke="#444"/>
<line x1="640.23" y1="561.71" x2="640.23" y2="567.69" stroke-width="0.4" stroke="#666"/>
<circle cx="640.23" cy="564.70" r="2.6" stroke-width="0.8"/>
<line x1="644.56" y1="563.81" x2="649.36" y2="563.81" stroke-width="0.6" stroke="#444"/>
<line x1="644.56" y1="569.99" x2="649.36" y2="569.99" stroke-width="0.6" stroke="#444"/>
<line x1="646.96" y1="563.81" x2="646.96" y2="569.99" stroke-width="0.4" stroke="#666"/>
<circle cx="646.96" cy="566.90" r="2.6" stroke-width="0.8"/>
<line x1="651.30" y1="566.02" x2="656.10" y2="566.02" stroke-width="0.6" stroke="#444"/>
<line x1="651.30" y1="572.38" x2="656.10" y2="572.38" stroke-width="0.6" stroke="#444"/>
<line x1="653.70" y1="566.02" x2="653.70" y2="572.38" stroke-width="0.4" stroke="#666"/>
<circle cx="653.70" cy="569.20" r="2.6" stroke-width="0.8"/>
<line x1="658.03" y1="568.12" x2="662.83" y2="568.12" stroke-width="0.6" stroke="#444"/>
<line x1="658.03" y1="574.68" x2="662.83" y2="574.68" stroke-width="0.6" stroke="#444"/>
<line x1="660.43" y1="568.12" x2="660.43" y2="574.68" stroke-width="0.4" stroke="#666"/>
<circle cx="660.43" cy="571.40" r="2.6" stroke-width="0.8"/>
<line x1="664.77" y1="570.23" x2="669.57" y2="570.23" stroke-width="0.6" stroke="#444"/>
<line x1="664.77" y1="576.97" x2="669.57" y2="576.97" stroke-width="0.6" stroke="#444"/>
<line x1="667.17" y1="570.23" x2="667.17" y2="576.97" stroke-width="0.4" stroke="#666"/>
<circle cx="667.17" cy="573.60" r="2.6" stroke-width="0.8"/>
<line x1="671.50" y1="572.33" x2="676.30" y2="572.33" stroke-width="0.6" stroke="#444"/>
<line x1="671.50" y1="579.27" x2="676.30" y2="579.27" stroke-width="0.6" stroke="#444"/>
<line x1="673.90" y1="572.33" x2="673.90" y2="579.27" stroke-width="0.4" stroke="#666"/>
<circle cx="673.90" cy="575.80" r="2.6" stroke-width="0.8"/>
<line x1="678.24" y1="574.44" x2="683.04" y2="574.44" stroke-width="0.6" stroke="#444"/>
<line x1="678.24" y1="581.56" x2="683.04" y2="581.56" stroke-width="0.6" stroke="#444"/>
<line x1="680.64" y1="574.44" x2="680.64" y2="581.56" stroke-width="0.4" stroke="#666"/>
<circle cx="680.64" cy="578.00" r="2.6" stroke-width="0.8"/>
<line x1="684.97" y1="576.44" x2="689.77" y2="576.44" stroke-width="0.6" stroke="#444"/>
<line x1="684.97" y1="583.76" x2="689.77" y2="583.76" stroke-width="0.6" stroke="#444"/>
<line x1="687.37" y1="576.44" x2="687.37" y2="583.76" stroke-width="0.4" stroke="#666"/>
<circle cx="687.37" cy="580.10" r="2.6" stroke-width="0.8"/>
<line x1="691.71" y1="578.55" x2="696.51" y2="578.55" stroke-width="0.6" stroke="#444"/>
<line x1="691.71" y1="586.05" x2="696.51" y2="586.05" stroke-width="0.6" stroke="#444"/>
<line x1="694.11" y1="578.55" x2="694.11" y2="586.05" stroke-width="0.4" stroke="#666"/>
<circle cx="694.11" cy="582.30" r="2.6" stroke-width="0.8"/>
<line x1="698.44" y1="580.65" x2="703.24" y2="580.65" stroke-width="0.6" stroke="#444"/>
<line x1="698.44" y1="588.35" x2="703.24" y2="588.35" stroke-width="0.6" stroke="#444"/>
<line x1="700.84" y1="580.65" x2="700.84" y2="588.35" stroke-width="0.4" stroke="#666"/>
<circle cx="700.84" cy="584.50" r="2.6" stroke-width="0.8"/>
<line x1="705.18" y1="582.76" x2="709.98" y2="582.76" stroke-width="0.6" stroke="#444"/>
<line x1="705.18" y1="590.64" x2="709.98" y2="590.64" stroke-width="0.6" stroke="#444"/>
<line x1="707.58" y1="582.76" x2="707.58" y2="590.64" stroke-width="0.4" stroke="#666"/>
<circle cx="707.58" cy="586.70" r="2.6" stroke-width="0.8"/>
<line x1="711.91" y1="584.86" x2="716.71" y2="584.86" stroke-width="0.6" stroke="#444"/>
<line x1="711.91" y1="592.94" x2="716.71" y2="592.94" stroke-width="0.6" stroke="#444"/>
<line x1="714.31" y1="584.86" x2="714.31" y2="592.94" stroke-width="0.4" stroke="#666"/>
<circle cx="714.31" cy="588.90" r="2.6" stroke-width="0.8"/>
<line x1="718.65" y1="586.87" x2="723.45" y2="586.87" stroke-width="0.6" stroke="#444"/>
<line x1="718.65" y1="595.13" x2="723.45" y2="595.13" stroke-width="0.6" stroke="#444"/>
<line x1="721.05" y1="586.87" x2="721.05" y2="595.13" stroke-width="0.4" stroke="#666"/>
<circle cx="721.05" cy="591.00" r="2.6" stroke-width="0.8"/>
</g>
</svg>
<div id="box"></div>
<div id="tx">
<div class="yl" style="top:77.2px">0.1</div>
<div class="yl" style="top:153.0px">0.01</div>
<div class="yl" style="top:228.9px">0.001</div>
<div class="yl" style="top:304.7px">0.0001</div>
<div class="yl" style="top:380.6px">1E-005</div>
<div class="yl" style="top:456.4px">1E-006</div>
<div class="yl" style="top:532.2px">1E-007</div>
<div class="yl" style="top:608.1px">1E-008</div>
<div class="xl" style="left:95.3px;top:653.3px">0</div>
<div class="xl" style="left:230.0px;top:653.3px">20</div>
<div class="xl" style="left:364.7px;top:653.3px">40</div>
<div class="xl" style="left:499.4px;top:653.3px">60</div>
<div class="xl" style="left:634.1px;top:653.3px">80</div>
<div class="t" style="left:42.5px;top:14.9px;font-size:38.5px;height:38.5px;line-height:38.5px;color:#000;">n(r)</div>
<div class="t" style="left:712.0px;top:641.9px;font-size:36px;height:36px;line-height:36px;color:#000;transform:scaleX(1.16);transform-origin:0 0;">r</div>
<div class="t tw" style="left:188.4px;top:27.0px;font-size:24px;height:24px;line-height:24px;color:#000;transform:scaleY(1.03);transform-origin:0 20.10px;">N</div>
<div class="t tw" style="left:209.8px;top:27.0px;font-size:24px;height:24px;line-height:24px;color:#000;transform:scaleY(1.03);transform-origin:0 20.10px;"><span class="eq">=</span></div>
<div class="t tw" style="left:234.5px;top:27.0px;font-size:24px;height:24px;line-height:24px;color:#000;transform:scaleY(1.03);transform-origin:0 20.10px;">2</div>
<div class="t tw" style="left:253.5px;top:27.0px;font-size:24px;height:24px;line-height:24px;color:#000;transform:scaleY(1.03);transform-origin:0 20.10px;">soft-</div>
<div class="t tw" style="left:303.9px;top:27.0px;font-size:24px;height:24px;line-height:24px;color:#000;transform:scaleY(1.03);transform-origin:0 20.10px;">and</div>
<div class="t tw" style="left:348.8px;top:27.0px;font-size:24px;height:24px;line-height:24px;color:#000;transform:scaleY(1.03);transform-origin:0 20.10px;letter-spacing:0.75px;">hard-core</div>
<div class="t tw" style="left:454.7px;top:27.0px;font-size:24px;height:24px;line-height:24px;color:#000;transform:scaleY(1.03);transform-origin:0 20.10px;letter-spacing:0.4px;">bosons</div>
<div class="t tw" style="left:531.5px;top:27.0px;font-size:24px;height:24px;line-height:24px;color:#000;transform:scaleY(1.03);transform-origin:0 20.10px;">in</div>
<div class="t tw" style="left:557.6px;top:27.0px;font-size:24px;height:24px;line-height:24px;color:#000;transform:scaleY(1.03);transform-origin:0 20.10px;">3D:</div>
<div class="t tw" style="left:602.2px;top:27.0px;font-size:24px;height:24px;line-height:24px;color:#000;transform:scaleY(1.03);transform-origin:0 20.10px;">L</div>
<div class="t tw" style="left:621.2px;top:27.0px;font-size:24px;height:24px;line-height:24px;color:#000;transform:scaleY(1.03);transform-origin:0 20.10px;"><span class="eq">=</span></div>
<div class="t tw" style="left:646.7px;top:27.0px;font-size:24px;height:24px;line-height:24px;color:#000;transform:scaleY(1.03);transform-origin:0 20.10px;letter-spacing:0.5px;"><span style="color:#339966">128</span>,</div>
<div class="t tw" style="left:696.5px;top:27.0px;font-size:24px;height:24px;line-height:24px;color:#000;transform:scaleY(1.03);transform-origin:0 20.10px;letter-spacing:0.5px;">256</div>
<div class="t" style="left:546.6px;top:229.1px;font-size:24px;height:24px;line-height:24px;color:#0000ff;transform:scaleY(1.03);transform-origin:0 20.10px;">I<sub class="k">1</sub><span class="e2">=</span>E<sub class="k" style="margin-left:0.8px">1</sub> <span class="e2">=</span> <span class="n" style="margin-left:1.2px">0.06058</span></div>
<div class="t" style="left:546.6px;top:261.7px;font-size:24px;height:24px;line-height:24px;color:#339966;transform:scaleY(1.03);transform-origin:0 20.10px;">I<sub class="k">2</sub> <span class="p">(U<span class="e2">=</span>1)<span class="e2">=</span> </span><span class="n">0.0107</span></div>
<div class="t" style="left:546.6px;top:293.7px;font-size:24px;height:24px;line-height:24px;color:#ff0000;transform:scaleY(1.03);transform-origin:0 20.10px;">I<sub class="k">2</sub> <span class="p">(U<span class="e2">=</span>3)<span class="e2">=</span> </span><span class="n">0.00102</span></div>
<div class="t" style="left:546.6px;top:325.9px;font-size:24px;height:24px;line-height:24px;color:#000;transform:scaleY(1.03);transform-origin:0 20.10px;">I<sub class="k">2</sub> <span class="p">(HC)<span class="e2">=</span> </span><span class="n">0.00034</span></div>
<div class="t" style="left:204px;top:580.8px;font-size:24px;height:24px;line-height:24px;color:#0000ff;transform:scaleY(1.03);transform-origin:0 20.10px;word-spacing:1.3px;">N <span class="e2">=</span> 1</div>
<div class="t" style="left:308.9px;top:580.8px;font-size:24px;height:24px;line-height:24px;color:#339966;transform:scaleY(1.03);transform-origin:0 20.10px;word-spacing:1.2px;">U <span class="e2">=</span> 1</div>
<div class="t" style="left:467.4px;top:583.1px;font-size:24px;height:24px;line-height:24px;color:#ff0000;transform:scaleY(1.03);transform-origin:0 20.10px;word-spacing:1.2px;">U <span class="e2">=</span> 3</div>
<div class="t" style="left:298.4px;top:484.8px;font-size:24px;height:24px;line-height:24px;color:#339966;transform:scaleY(1.03);transform-origin:0 20.10px;">L <sup class="k">-3</sup></div>
<div class="t" style="left:412.4px;top:551.7px;font-size:24px;height:24px;line-height:24px;color:#ff0000;transform:scaleY(1.03);transform-origin:0 20.10px;">L <sup class="k">-3</sup></div>
<div class="t" style="left:566.4px;top:507.1px;font-size:24px;height:24px;line-height:24px;color:#000;transform:scaleY(1.03);transform-origin:0 20.10px;font-weight:bold;">HC</div>
</div></div></body></html>
